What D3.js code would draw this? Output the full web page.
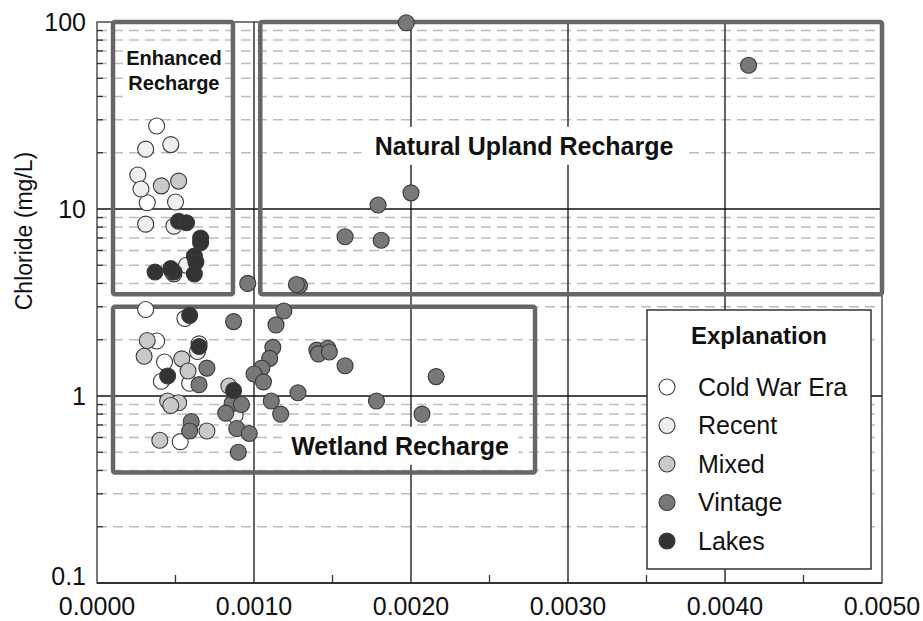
<!DOCTYPE html>
<html>
<head>
<meta charset="utf-8">
<script src="https://d3js.org/d3.v7.min.js"></script>
<style>
  body { margin: 0; background: #fff; }
  text { font-family: "Liberation Sans", Arial, Helvetica, sans-serif; }
</style>
</head>
<body>
<svg id="chart" width="923" height="621"></svg>
<script>
// ---- data ----
const groups = ["Cold War Era", "Recent", "Mixed", "Vintage", "Lakes"];
const groupFill = ["#ffffff", "#efefef", "#c9c9c9", "#787878", "#333333"];

// x = ratio value, y = chloride (mg/L)
const coldWarX = [0.00038, 0.00032, 0.00031, 0.00056, 0.00038, 0.00043, 0.00041, 0.00059, 0.00053, 0.00065, 0.00049];
const coldWarY = [27.8, 10.8, 2.9, 2.6, 1.97, 1.52, 1.2, 1.17, 0.57, 1.9, 4.5];

const recentX = [0.00031, 0.00047, 0.00026, 0.00028, 0.0005, 0.00031, 0.00049, 0.00048, 0.00057, 0.00064, 0.00088];
const recentY = [20.9, 22.1, 15.2, 12.8, 10.9, 8.3, 8.1, 4.6, 5.0, 1.73, 0.79];

const mixedX = [0.00041, 0.00052, 0.00032, 0.0003, 0.00054, 0.00058, 0.00045, 0.00052, 0.00047, 0.0007, 0.0004, 0.00084];
const mixedY = [13.3, 14.1, 1.98, 1.63, 1.58, 1.36, 0.94, 0.92, 0.89, 0.65, 0.58, 1.13];

const vintageX = [0.00087, 0.0007, 0.00065, 0.00086, 0.00092, 0.00082, 0.0006, 0.00059, 0.00089, 0.00097,
                  0.0009, 0.00096, 0.00129, 0.00127, 0.00119, 0.00114, 0.00112, 0.0011, 0.00105, 0.001,
                  0.00106, 0.0014, 0.00147, 0.00141, 0.00148, 0.00158, 0.00128, 0.00111, 0.00117, 0.00178,
                  0.00216, 0.00207, 0.002, 0.00179, 0.00158, 0.00181, 0.00197, 0.00415];
const vintageY = [2.5, 1.41, 1.15, 0.91, 0.9, 0.81, 0.73, 0.65, 0.67, 0.63,
                  0.5, 4.0, 3.9, 3.95, 2.85, 2.4, 1.82, 1.59, 1.41, 1.31,
                  1.19, 1.76, 1.8, 1.68, 1.72, 1.45, 1.04, 0.94, 0.8, 0.94,
                  1.27, 0.8, 12.2, 10.5, 7.1, 6.8, 99, 58.7];

const lakesX = [0.00052, 0.00057, 0.00066, 0.00066, 0.00062, 0.00063, 0.00062, 0.00037, 0.00049, 0.00047,
                0.00059, 0.00065, 0.00045, 0.00087];
const lakesY = [8.6, 8.45, 7.0, 6.6, 5.6, 5.2, 4.5, 4.6, 4.6, 4.8,
                2.7, 1.84, 1.28, 1.07];

const seriesX = [coldWarX, recentX, mixedX, vintageX, lakesX];
const seriesY = [coldWarY, recentY, mixedY, vintageY, lakesY];

// recharge regions (x0, x1, yTop, yBottom in data units)
const regionNames = [["Enhanced", "Recharge"], ["Natural Upland Recharge"], ["Wetland Recharge"]];
const regionX0 = [0.000102, 0.00104, 0.000102];
const regionX1 = [0.000866, 0.005, 0.00279];
const regionYTop = [100, 100, 3.0];
const regionYBot = [3.5, 3.5, 0.39];
const regionLabelX = [0.00049, 0.00272, 0.00193];
const regionLabelY = [55, 21.7, 0.54];

const xTickValues = [0, 0.001, 0.002, 0.003, 0.004, 0.005];
const yTickValues = [0.1, 1, 10, 100];
const yTickLabels = ["0.1", "1", "10", "100"];

// ---- layout ----
const svg = d3.select("#chart");
const plotL = 97, plotR = 882, plotT = 22, plotB = 583;

const x = d3.scaleLinear().domain([0, 0.005]).range([plotL, plotR]);
const y = d3.scaleLog().domain([0.1, 100]).range([plotB, plotT]);

// minor log values 2..9 in each decade
const minorY = [];
[0.1, 1, 10].forEach(d => { for (let k = 2; k <= 9; k++) minorY.push(d * k); });

// dashed minor grid
svg.append("g").selectAll("line").data(minorY).join("line")
  .attr("x1", plotL).attr("x2", plotR)
  .attr("y1", d => y(d)).attr("y2", d => y(d))
  .attr("stroke", "#bdbdbd").attr("stroke-width", 1.5)
  .attr("stroke-dasharray", "10,6");

// major grid
svg.append("g").selectAll("line").data([1, 10]).join("line")
  .attr("x1", plotL).attr("x2", plotR)
  .attr("y1", d => y(d)).attr("y2", d => y(d))
  .attr("stroke", "#111").attr("stroke-width", 1.3);
svg.append("g").selectAll("line").data(xTickValues.slice(1, -1)).join("line")
  .attr("x1", d => x(d)).attr("x2", d => x(d))
  .attr("y1", plotT).attr("y2", plotB)
  .attr("stroke", "#111").attr("stroke-width", 1.3);

// axis ticks (inward)
svg.append("g").selectAll("line").data([0.0005, 0.0015, 0.0025, 0.0035, 0.0045]).join("line")
  .attr("x1", d => x(d)).attr("x2", d => x(d))
  .attr("y1", plotB).attr("y2", plotB - 8)
  .attr("stroke", "#333").attr("stroke-width", 1.3);
svg.append("g").selectAll("line").data(minorY).join("line")
  .attr("x1", plotL).attr("x2", plotL + 6)
  .attr("y1", d => y(d)).attr("y2", d => y(d))
  .attr("stroke", "#333").attr("stroke-width", 1.3);

// frame
svg.append("rect")
  .attr("x", plotL).attr("y", plotT)
  .attr("width", plotR - plotL).attr("height", plotB - plotT)
  .attr("fill", "none").attr("stroke", "#333").attr("stroke-width", 1.3);
svg.append("line")
  .attr("x1", plotL).attr("x2", plotR).attr("y1", plotB).attr("y2", plotB)
  .attr("stroke", "#333").attr("stroke-width", 2);

// region boxes
regionNames.forEach((name, i) => {
  svg.append("rect")
    .attr("x", x(regionX0[i])).attr("y", y(regionYTop[i]))
    .attr("width", x(regionX1[i]) - x(regionX0[i]))
    .attr("height", y(regionYBot[i]) - y(regionYTop[i]))
    .attr("rx", 2)
    .attr("fill", "none").attr("stroke", "#666").attr("stroke-width", 4.5);
});

// region labels with white backing
const labelSize = [20, 25, 25];
const labelPad = [[3, 4], [13, 5], [9, 5]];
regionNames.forEach((lines, i) => {
  const g = svg.append("g");
  const bg = g.append("rect").attr("fill", "#fff");
  const t = g.append("text")
    .attr("text-anchor", "middle")
    .attr("font-weight", "bold")
    .attr("font-size", labelSize[i])
    .attr("fill", "#111");
  const lh = labelSize[i] * 1.25;
  const y0 = y(regionLabelY[i]) - (lines.length - 1) * lh / 2;
  lines.forEach((ln, j) => {
    t.append("tspan")
      .attr("x", x(regionLabelX[i]))
      .attr("y", y0 + j * lh)
      .attr("dy", "0.35em")
      .text(ln);
  });
  const bb = t.node().getBBox();
  bg.attr("x", bb.x - labelPad[i][0]).attr("y", bb.y - labelPad[i][1])
    .attr("width", bb.width + 2 * labelPad[i][0])
    .attr("height", bb.height + 2 * labelPad[i][1]);
});

// points
groups.forEach((gname, i) => {
  const pts = seriesX[i].map((v, k) => ({ x: v, y: seriesY[i][k] }));
  svg.append("g").selectAll("circle").data(pts).join("circle")
    .attr("cx", d => x(d.x)).attr("cy", d => y(d.y))
    .attr("r", 8)
    .attr("fill", groupFill[i])
    .attr("stroke", "#3a3a3a").attr("stroke-width", 1.1);
});

// tick labels
svg.append("g").selectAll("text").data(xTickValues).join("text")
  .attr("x", d => x(d)).attr("y", 615)
  .attr("text-anchor", "middle")
  .attr("font-size", 25).attr("fill", "#111")
  .text(d => d3.format(".4f")(d));
svg.append("g").selectAll("text").data(yTickValues).join("text")
  .attr("x", 86).attr("y", d => y(d) - (d === 0.1 ? 7 : 0))
  .attr("dy", "0.35em")
  .attr("text-anchor", "end")
  .attr("font-size", 25).attr("fill", "#111")
  .text((d, i) => yTickLabels[i]);

// y axis title
svg.append("text")
  .attr("transform", "translate(32,231) rotate(-90)")
  .attr("text-anchor", "middle")
  .attr("font-size", 23).attr("fill", "#111")
  .text("Chloride (mg/L)");

// legend
const lg = svg.append("g");
lg.append("rect")
  .attr("x", 647).attr("y", 310).attr("width", 224).attr("height", 259)
  .attr("fill", "#fff").attr("stroke", "#333").attr("stroke-width", 1.5);
lg.append("text")
  .attr("x", 759).attr("y", 344)
  .attr("text-anchor", "middle")
  .attr("font-size", 24).attr("font-weight", "bold").attr("fill", "#111")
  .text("Explanation");
groups.forEach((gname, i) => {
  const cy = 387 + i * 38.5;
  lg.append("circle")
    .attr("cx", 667).attr("cy", cy).attr("r", 8)
    .attr("fill", groupFill[i]).attr("stroke", "#3a3a3a").attr("stroke-width", 1.1);
  lg.append("text")
    .attr("x", 698).attr("y", cy).attr("dy", "0.35em")
    .attr("font-size", 25).attr("fill", "#111")
    .text(gname);
});
</script>
</body>
</html>
